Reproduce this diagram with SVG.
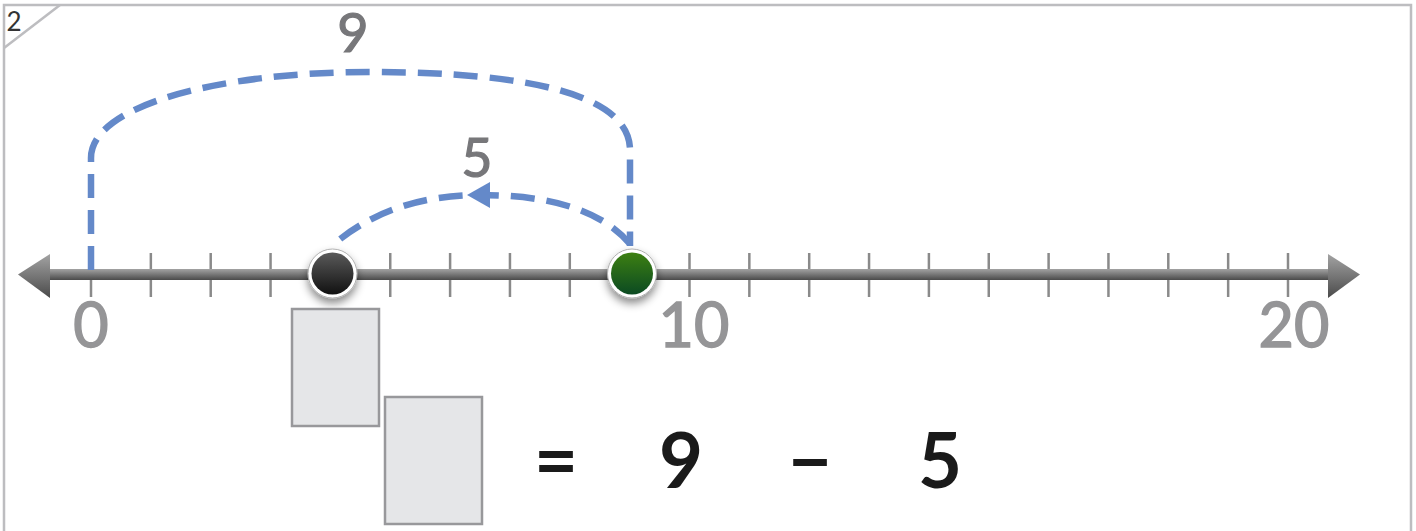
<svg xmlns="http://www.w3.org/2000/svg" width="1416" height="531" viewBox="0 0 1416 531">
<defs>
<style>
.frame{fill:none;stroke:#bdbdc0;stroke-width:2.5}
.tick{stroke:#8a8a8a;stroke-width:2.5}
.lbl{font-family:Lato,"Open Sans","DejaVu Sans",sans-serif;font-weight:400;fill:#959597;text-anchor:middle;stroke:#959597;stroke-width:1.5}
.jump{fill:none;stroke:#6489c9;stroke-width:6.5;stroke-dasharray:24 12}
.jl{font-family:Lato,"Open Sans","DejaVu Sans",sans-serif;font-weight:400;fill:#77777a;text-anchor:middle;font-size:54px;stroke:#77777a;stroke-width:1.2}
.box{fill:#e5e6e8;stroke:#98989b;stroke-width:2.5}
.eq{font-family:Lato,"Open Sans","DejaVu Sans",sans-serif;font-weight:700;fill:#1a1a1a;text-anchor:middle;font-size:76px}
</style>
<linearGradient id="lineG" x1="0" y1="0" x2="0" y2="1">
<stop offset="0" stop-color="#a3a3a3"/><stop offset="1" stop-color="#4a4a4a"/>
</linearGradient>
<linearGradient id="blackG" x1="0" y1="0" x2="0" y2="1">
<stop offset="0" stop-color="#5a5a5a"/><stop offset="1" stop-color="#111"/>
</linearGradient>
<linearGradient id="greenG" x1="0" y1="0" x2="0" y2="1">
<stop offset="0" stop-color="#3d8012"/><stop offset="1" stop-color="#0b4a22"/>
</linearGradient>
<filter id="sh" x="-50%" y="-50%" width="200%" height="200%">
<feDropShadow dx="0" dy="5" stdDeviation="4" flood-color="#000" flood-opacity="0.45"/>
</filter>
</defs>

<g id="frame">
<path class="frame" d="M4,531 V5 H1411 V531"/>
<path class="frame" d="M4,48 L60,5"/>
<text x="14" y="31" font-family="Lato,'DejaVu Sans',sans-serif" font-weight="400" font-size="26" fill="#333" text-anchor="middle">2</text>
</g>

<g id="number-line">
<g id="ticks">
<line class="tick" x1="91" y1="253" x2="91" y2="297"/>
<line class="tick" x1="150.85" y1="253" x2="150.85" y2="297"/>
<line class="tick" x1="210.7" y1="253" x2="210.7" y2="297"/>
<line class="tick" x1="270.55" y1="253" x2="270.55" y2="297"/>
<line class="tick" x1="330.4" y1="253" x2="330.4" y2="297"/>
<line class="tick" x1="390.25" y1="253" x2="390.25" y2="297"/>
<line class="tick" x1="450.1" y1="253" x2="450.1" y2="297"/>
<line class="tick" x1="509.95" y1="253" x2="509.95" y2="297"/>
<line class="tick" x1="569.8" y1="253" x2="569.8" y2="297"/>
<line class="tick" x1="629.65" y1="253" x2="629.65" y2="297"/>
<line class="tick" x1="689.5" y1="253" x2="689.5" y2="297"/>
<line class="tick" x1="749.35" y1="253" x2="749.35" y2="297"/>
<line class="tick" x1="809.2" y1="253" x2="809.2" y2="297"/>
<line class="tick" x1="869.05" y1="253" x2="869.05" y2="297"/>
<line class="tick" x1="928.9" y1="253" x2="928.9" y2="297"/>
<line class="tick" x1="988.75" y1="253" x2="988.75" y2="297"/>
<line class="tick" x1="1048.6" y1="253" x2="1048.6" y2="297"/>
<line class="tick" x1="1108.45" y1="253" x2="1108.45" y2="297"/>
<line class="tick" x1="1168.3" y1="253" x2="1168.3" y2="297"/>
<line class="tick" x1="1228.15" y1="253" x2="1228.15" y2="297"/>
<line class="tick" x1="1288" y1="253" x2="1288" y2="297"/>
</g>
<rect x="45" y="269" width="1288" height="11" fill="url(#lineG)"/>
<polygon points="18,274.5 50,254 50,298" fill="url(#lineG)"/>
<polygon points="1360,274.5 1328,254 1328,298" fill="url(#lineG)"/>
<text class="lbl" x="91" y="347" font-size="61">0</text>
<text class="lbl" x="694" y="347" font-size="61">10</text>
<text class="lbl" x="1294" y="347" font-size="61">20</text>
</g>

<g id="connectors">
<path class="jump" d="M91,270 V158 C91,105 220,72 370,72 C530,72 630,95 630,150 V246"/>
<path class="jump" d="M630,244 C600,208 545,195 480,195 C420,195 372,212 334,244"/>
<polygon points="467,195 490,182 490,208" fill="#6489c9"/>
<text class="jl" x="353" y="52">9</text>
<text class="jl" x="477" y="177">5</text>
</g>

<g id="dot-start">
<circle cx="332.5" cy="273.5" r="24.5" fill="#fff" stroke="#b0b0b0" stroke-width="1" filter="url(#sh)"/>
<circle cx="332.5" cy="273.5" r="21" fill="url(#blackG)"/>
</g>
<g id="dot-end">
<circle cx="632" cy="273.5" r="24.5" fill="#fff" stroke="#b0b0b0" stroke-width="1" filter="url(#sh)"/>
<circle cx="632" cy="273.5" r="21" fill="url(#greenG)"/>
</g>

<g id="answer-boxes">
<rect class="box" x="292" y="309" width="87" height="117"/>
<rect class="box" x="385" y="397" width="97" height="127"/>
</g>

<g id="equation">
<text class="eq" x="556" y="488">=</text>
<text class="eq" x="681" y="488">9</text>
<text class="eq" x="810" y="488">−</text>
<text class="eq" x="940" y="488">5</text>
</g>
</svg>
